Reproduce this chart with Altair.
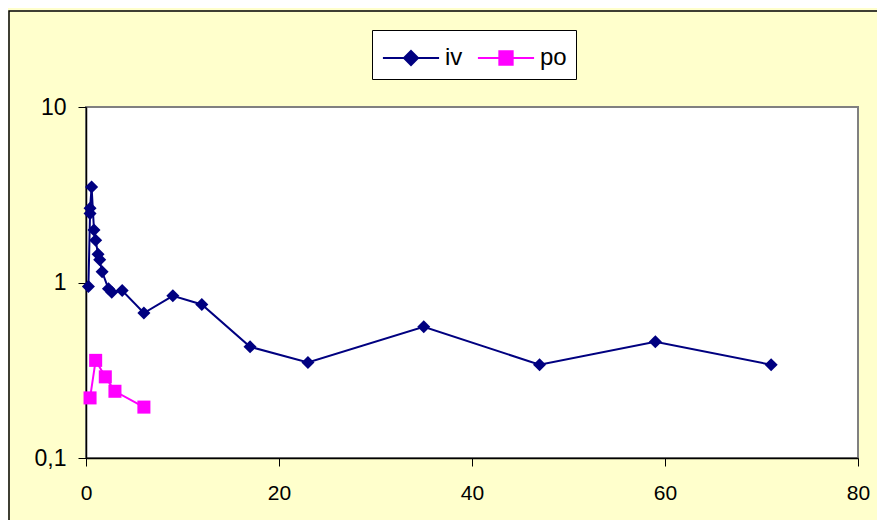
import altair as alt
import pandas as pd

# ---- data ----
iv_time = [0.25, 0.42, 0.42, 0.58, 0.83, 1.0, 1.25, 1.42, 1.67, 2.33, 2.67, 3.75,
           6, 9, 12, 17, 23, 35, 47, 59, 71]
iv_conc = [0.95, 2.47, 2.65, 3.5, 1.99, 1.74, 1.45, 1.35, 1.15, 0.92, 0.88, 0.9,
           0.67, 0.84, 0.75, 0.43, 0.35, 0.56, 0.34, 0.46, 0.34]
po_time = [0.42, 1.0, 2.0, 3.0, 6.0]
po_conc = [0.22, 0.36, 0.29, 0.24, 0.195]

series_names = ["iv", "po"]
series_colors = ["#000080", "#FF00FF"]
series_shapes = ["diamond", "square"]
x_ticks = [0, 20, 40, 60, 80]
y_ticks = [0.1, 1, 10]

df = pd.concat([
    pd.DataFrame({"series": "iv", "t": iv_time, "c": iv_conc}),
    pd.DataFrame({"series": "po", "t": po_time, "c": po_conc}),
], ignore_index=True)

FONT = "Liberation Sans"

x_enc = alt.X("t:Q", scale=alt.Scale(domain=[0, 80], nice=False, zero=False),
              axis=alt.Axis(values=x_ticks, title=None, grid=False, tickSize=8,
                            labelFontSize=21, labelPadding=16, labelFont=FONT,
                            labelColor="black", domainColor="black", tickColor="black",
                            domainWidth=1.5, labelFlush=False))
y_enc = alt.Y("c:Q", scale=alt.Scale(type="log", domain=[0.1, 10], nice=False),
              axis=alt.Axis(values=y_ticks, title=None, grid=False, tickSize=8,
                            labelFontSize=23, labelPadding=12, labelFont=FONT,
                            labelColor="black", domainColor="black", tickColor="black",
                            domainWidth=1.5, labelFlush=False,
                            labelExpr="replace(datum.label, '.', ',')"))

# legend symbols: a line with the marker on it (Excel style)
legend_shapes = [
    "M-1.56,0L1.56,0M0,-0.39L0.39,0L0,0.39L-0.39,0Z",
    "M-1.56,0L1.56,0M-0.37,-0.37L0.37,-0.37L0.37,0.37L-0.37,0.37Z",
]

legend = alt.Legend(
    title=None, orient="none", direction="horizontal",
    legendX=286, legendY=-77,
    fillColor="white", strokeColor="black", padding=9,
    symbolSize=1296, symbolStrokeWidth=2, symbolOffset=11,
    labelFontSize=24, labelFont=FONT,
    labelColor="black", labelOffset=15, columnPadding=10, symbolOpacity=1,
)

color_scale = alt.Scale(domain=series_names, range=series_colors)

frame = alt.Chart(pd.DataFrame({"k": [0]})).mark_rect(
    fill=None, stroke="black", strokeWidth=1.5
).encode(x=alt.value(-77), x2=alt.value(830), y=alt.value(-96), y2=alt.value(440))

lines = alt.Chart(df).mark_line(strokeWidth=2).encode(
    x=x_enc, y=y_enc,
    color=alt.Color("series:N", scale=color_scale, legend=None),
    order="t:Q")

points = alt.Chart(df).mark_point(filled=True, size=170, opacity=1).encode(
    x=x_enc, y=y_enc,
    color=alt.Color("series:N", scale=color_scale, legend=None),
    shape=alt.Shape("series:N", scale=alt.Scale(domain=series_names, range=series_shapes),
                    legend=None))

legend_layer = alt.Chart(df).transform_filter("false").mark_point(
    filled=True, opacity=1
).encode(
    x=x_enc, y=y_enc,
    color=alt.Color("series:N", scale=color_scale, legend=legend),
    stroke=alt.Stroke("series:N", scale=color_scale, legend=legend),
    shape=alt.Shape("series:N", scale=alt.Scale(domain=series_names, range=legend_shapes),
                    legend=legend),
)

chart = alt.layer(frame, lines, points, legend_layer).resolve_scale(
    color="independent", shape="independent", stroke="independent"
).properties(
    width=772, height=351,
    autosize=alt.AutoSizeParams(type="none"),
    padding={"left": 78, "top": 99, "right": 19, "bottom": 62},
).configure(background="#FFFFCC").configure_view(
    stroke="#808080", strokeWidth=2, fill="white"
)

chart.save("out.html", embed_options={"renderer": "svg", "actions": False})
